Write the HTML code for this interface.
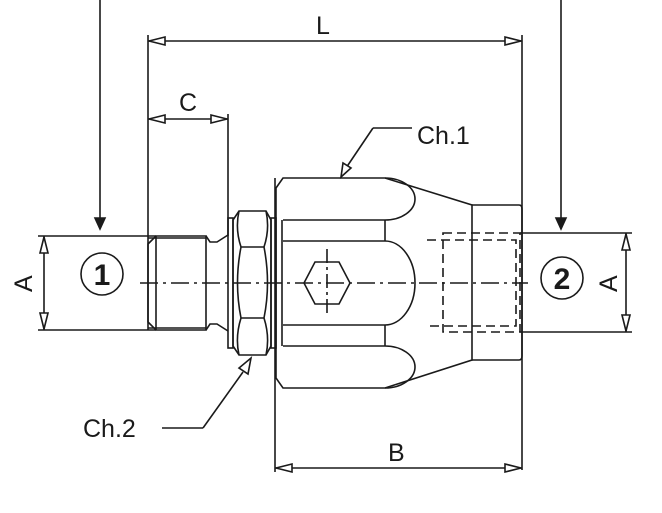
<!DOCTYPE html>
<html><head><style>html,body{margin:0;padding:0;background:#fff}svg{display:block}</style></head><body>
<svg width="662" height="513" viewBox="0 0 662 513" xmlns="http://www.w3.org/2000/svg" fill="none" stroke="#1a1a1a" stroke-width="1.6" font-family="'Liberation Sans',sans-serif">
<!-- top arrows -->
<line x1="100" y1="0" x2="100" y2="218"/><polygon points="95,218 105,218 100,229" fill="#1a1a1a"/>
<line x1="561" y1="0" x2="561" y2="218"/><polygon points="556,218 566,218 561,229" fill="#1a1a1a"/>
<!-- L dimension -->
<line x1="148" y1="35" x2="148" y2="330"/>
<line x1="522" y1="35" x2="522" y2="470"/>
<line x1="148" y1="41" x2="522" y2="41"/>
<polygon points="149,41 165,37 165,45" fill="#fff"/><polygon points="521,41 505,37 505,45" fill="#fff"/>
<text x="316" y="34" font-size="25" fill="#1a1a1a" stroke="none">L</text>
<!-- C dimension -->
<line x1="228" y1="114" x2="228" y2="236"/>
<line x1="148" y1="119" x2="228" y2="119"/>
<polygon points="149,119 165,115 165,123" fill="#fff"/><polygon points="227,119 211,115 211,123" fill="#fff"/>
<text x="179" y="111" font-size="25" fill="#1a1a1a" stroke="none">C</text>
<!-- B dimension -->
<line x1="275" y1="178" x2="275" y2="472"/>
<line x1="275" y1="468" x2="522" y2="468"/>
<polygon points="276,468 292,464 292,472" fill="#fff"/><polygon points="521,468 505,464 505,472" fill="#fff"/>
<text x="388" y="461" font-size="25" fill="#1a1a1a" stroke="none">B</text>
<!-- left A -->
<line x1="38" y1="236" x2="156" y2="236"/><line x1="38" y1="330" x2="156" y2="330"/>
<line x1="44" y1="236" x2="44" y2="330"/>
<polygon points="44,237 40,253 48,253" fill="#fff"/><polygon points="44,329 40,313 48,313" fill="#fff"/>
<text x="0" y="0" font-size="25" fill="#1a1a1a" stroke="none" transform="translate(32,292) rotate(-90)">A</text>
<circle cx="102" cy="274" r="21"/>
<text x="102" y="285" font-size="30" font-weight="bold" fill="#1a1a1a" stroke="none" text-anchor="middle">1</text>
<!-- right A -->
<line x1="520" y1="233" x2="632" y2="233"/><line x1="520" y1="332" x2="632" y2="332"/>
<line x1="626" y1="233" x2="626" y2="332"/>
<polygon points="626,234 622,250 630,250" fill="#fff"/><polygon points="626,331 622,315 630,315" fill="#fff"/>
<text x="0" y="0" font-size="25" fill="#1a1a1a" stroke="none" transform="translate(617,292) rotate(-90)">A</text>
<circle cx="562" cy="278" r="21"/>
<text x="562" y="289" font-size="30" font-weight="bold" fill="#1a1a1a" stroke="none" text-anchor="middle">2</text>
<!-- male thread -->
<path d="M148,244 L156,236 L206,236 L206,330 L156,330 L148,322 Z"/>
<line x1="156" y1="236" x2="156" y2="330"/>
<line x1="148" y1="238" x2="206" y2="238"/><line x1="148" y1="328" x2="206" y2="328"/>
<path d="M206,236 L210,242 L217,242 L228,235"/><path d="M206,330 L210,324 L217,324 L228,331"/>
<!-- washers -->
<rect x="228" y="218" width="5" height="130"/>
<rect x="271" y="218" width="5" height="130"/>
<!-- hex nut -->
<path d="M233,220 L239,211 L266,211 L271,220 L271,346 L266,355 L239,355 L233,346 Z"/>
<path d="M239,211 Q235,229 241,247 Q234,283 241,318 Q235,337 239,355"/>
<path d="M266,211 Q270,229 264,247 Q271,283 264,318 Q270,337 266,355"/>
<line x1="241" y1="247" x2="264" y2="247"/><line x1="241" y1="318" x2="264" y2="318"/>
<!-- main body -->
<path d="M276,188 L283,178 L385,178 L472,205 L472,360 L385,388 L283,388 L276,378 Z"/>
<line x1="282" y1="220" x2="282" y2="346"/>
<path d="M385,178 A30,21 0 0 1 385,220"/><line x1="283" y1="220" x2="385" y2="220"/><line x1="385" y1="220" x2="385" y2="241"/>
<line x1="283" y1="241" x2="385" y2="241"/>
<path d="M385,241 A30,42 0 0 1 385,325"/>
<line x1="283" y1="325" x2="385" y2="325"/><line x1="385" y1="325" x2="385" y2="346"/>
<line x1="283" y1="346" x2="385" y2="346"/><path d="M385,346 A30,21 0 0 1 385,388"/>
<!-- right port -->
<path d="M472,205 L519,205 Q522,205 522,209 L522,356 Q522,360 519,360 L472,360"/>
<g stroke-dasharray="9,5">
<rect x="443" y="233" width="77" height="99"/>
<path d="M427,240 L516,240 L516,326 L427,326"/>
</g>
<!-- small hex -->
<polygon points="315,262 339,262 350,283 339,304 315,304 304,283"/>
<line x1="327" y1="249" x2="327" y2="317" stroke-dasharray="14,4,3,4"/>
<!-- centerline -->
<line x1="140" y1="283" x2="528" y2="283" stroke-dasharray="18,5,3,5"/>
<!-- Ch.1 -->
<line x1="373" y1="128" x2="412" y2="128"/><line x1="373" y1="128" x2="346" y2="168"/>
<polygon points="341,177 343,163 351,168" fill="#fff"/>
<text x="417" y="144" font-size="25" fill="#1a1a1a" stroke="none">Ch.1</text>
<!-- Ch.2 -->
<line x1="162" y1="428" x2="203" y2="428"/><line x1="203" y1="428" x2="243" y2="372"/>
<polygon points="251,358 248,374 239,368" fill="#fff"/>
<text x="83" y="437" font-size="25" fill="#1a1a1a" stroke="none">Ch.2</text>
</svg>
</body></html>
